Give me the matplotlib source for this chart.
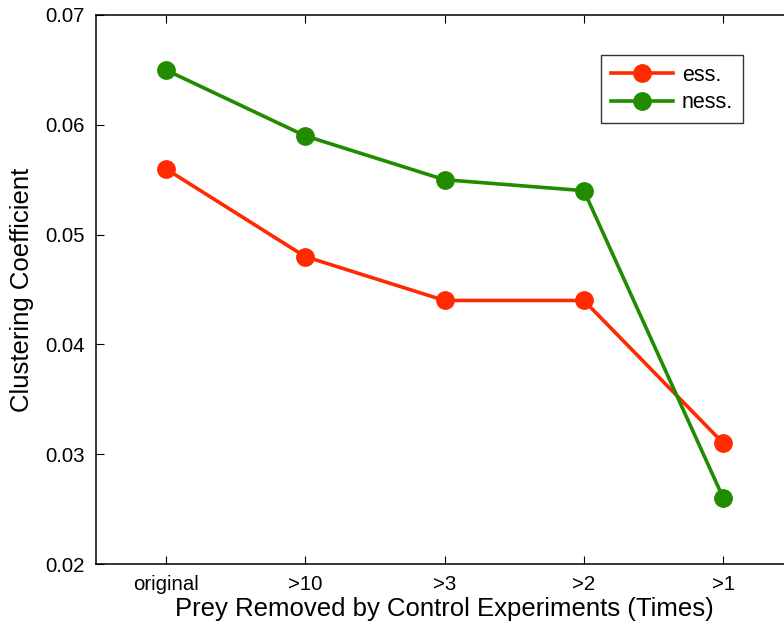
import numpy as np
import matplotlib
matplotlib.use("Agg")
import matplotlib.pyplot as plt

plt.rcParams['font.family'] = ['Liberation Sans', 'DejaVu Sans']

# data
categories = ["original", ">10", ">3", ">2", ">1"]
ess = [0.056, 0.048, 0.044, 0.044, 0.031]
ness = [0.065, 0.059, 0.055, 0.054, 0.026]

red = "#ff2a00"
green = "#218c00"

fig = plt.figure(figsize=(7.84, 6.28), dpi=100)
# right edge of the axes sits just past the picture, as in the reference
ax = fig.add_axes([96/784, 64/628, 697/784, 549/628])

x = np.arange(1, len(categories) + 1)
ax.plot(x, ess, '-o', color=red, lw=2.6, ms=12.5, label="ess.")
ax.plot(x, ness, '-o', color=green, lw=2.6, ms=12.5, label="ness.")

ax.set_xlim(0.5, 5.5)
ax.set_ylim(0.02, 0.07)
ax.set_xticks(x)
ax.set_xticklabels(categories)
ax.set_yticks([0.02, 0.03, 0.04, 0.05, 0.06, 0.07])
ax.set_yticklabels(["0.02", "0.03", "0.04", "0.05", "0.06", "0.07"])
ax.tick_params(direction='in', top=True, right=True, length=6, width=0.8,
               labelsize=14.7, pad=8)
for s in ax.spines.values():
    s.set_linewidth(1.1)

ax.set_xlabel("Prey Removed by Control Experiments (Times)", fontsize=18.5, labelpad=2)
ax.set_ylabel("Clustering Coefficient", fontsize=18.5, labelpad=8)

leg = ax.legend(loc='upper right', bbox_to_anchor=(743/784, 1 - 55/628),
                bbox_transform=fig.transFigure, borderaxespad=0,
                fontsize=15.5, handlelength=2.9, frameon=True, fancybox=False,
                edgecolor='black', borderpad=0.45, labelspacing=0.3, handletextpad=0.4)
leg.get_frame().set_linewidth(1.0)

fig.savefig("out.png", dpi=100)
